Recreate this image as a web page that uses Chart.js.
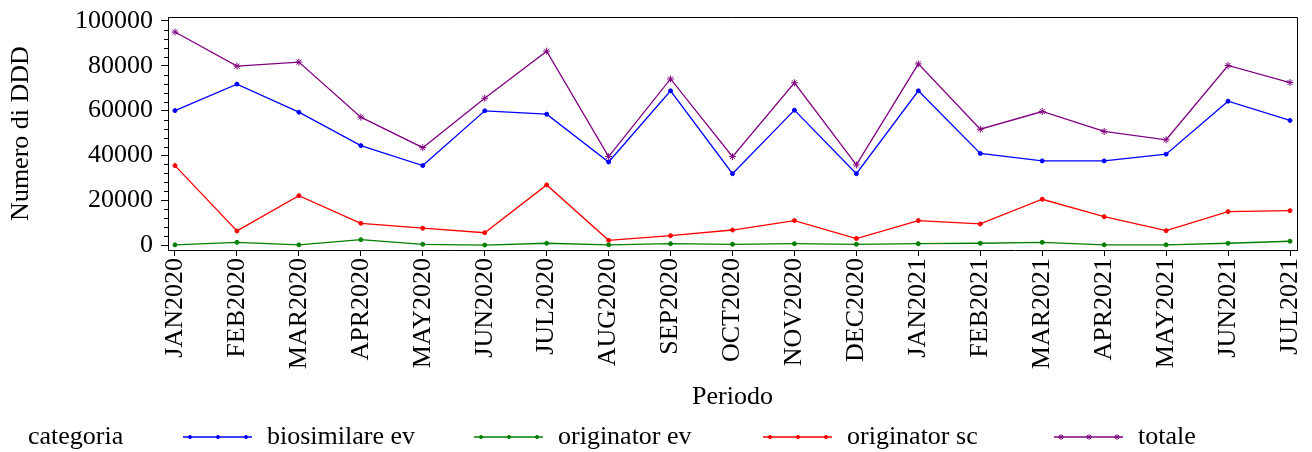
<!DOCTYPE html>
<html>
<head>
<meta charset="utf-8">
<script src="https://cdn.jsdelivr.net/npm/chart.js@4"></script>
<style>
  html, body { margin: 0; padding: 0; background: #fff; }
  canvas { display: block; }
</style>
</head>
<body>
<canvas id="ddd" width="1312" height="452"></canvas>
<script>
/* ─── Numero di DDD per periodo ───────────────────────────────── */

const periodi = ['JAN2020','FEB2020','MAR2020','APR2020','MAY2020','JUN2020','JUL2020',
  'AUG2020','SEP2020','OCT2020','NOV2020','DEC2020','JAN2021','FEB2021','MAR2021',
  'APR2021','MAY2021','JUN2021','JUL2021'];

const biosimilareEv = [60000, 71800, 59300, 44400, 35500, 59900, 58400, 37100, 68800, 31900,
  60200, 31900, 68800, 40900, 37600, 37600, 40600, 64200, 55600];
const originatorEv  = [200, 1300, 200, 2500, 450, 100, 900, 200, 700, 450,
  700, 450, 700, 900, 1300, 200, 200, 900, 1800];
const originatorSc  = [35500, 6400, 22100, 9800, 7600, 5600, 26900, 2200, 4300, 6800,
  11000, 3000, 11000, 9500, 20500, 12750, 6500, 15000, 15400];
const totale        = [95000, 79800, 81600, 57100, 43500, 65500, 86500, 39500, 74100, 39500,
  72400, 35800, 80800, 51700, 59600, 50700, 47000, 80100, 72500];

const yTicks = [0, 20000, 40000, 60000, 80000, 100000];

const FONT = "'Liberation Serif', 'Times New Roman', serif";

function pts(arr) {
  return arr.map((v, i) => ({ x: i, y: v }));
}

function serie(label, values, color, style, radius) {
  return {
    label,
    data: pts(values),
    borderColor: color,
    backgroundColor: color,
    borderWidth: 1.3,
    pointStyle: style,
    pointRadius: radius,
    pointBorderWidth: 1,
    tension: 0,
  };
}

// frame on top/right + minor ticks on the y axis
const framePlugin = {
  id: 'frame',
  afterDraw(chart) {
    const { ctx, chartArea: a, scales } = chart;
    ctx.save();
    ctx.strokeStyle = '#000';
    ctx.lineWidth = 1;
    ctx.beginPath();
    ctx.moveTo(a.left, a.top + 0.5);
    ctx.lineTo(a.right + 0.5, a.top + 0.5);
    ctx.lineTo(a.right + 0.5, a.bottom);
    ctx.stroke();

    const y = scales.y;
    ctx.beginPath();
    for (let v = 4000; v < 100000; v += 4000) {
      if (v % 20000 === 0) continue;
      const py = Math.round(y.getPixelForValue(v)) + 0.5;
      ctx.moveTo(a.left - 4, py);
      ctx.lineTo(a.left, py);
    }
    ctx.stroke();
    ctx.restore();
  }
};

// legend row at the bottom
const legendPos = [183, 474, 763, 1054];
const legendPlugin = {
  id: 'legendRow',
  afterDraw(chart) {
    const { ctx } = chart;
    const cy = 437;
    ctx.save();
    ctx.font = `26px ${FONT}`;
    ctx.fillStyle = '#000';
    ctx.textBaseline = 'middle';
    ctx.textAlign = 'left';
    ctx.fillText('categoria', 28, cy);
    chart.data.datasets.forEach((ds, i) => {
      const x0 = legendPos[i];
      ctx.strokeStyle = ds.borderColor;
      ctx.fillStyle = ds.borderColor;
      ctx.lineWidth = 1.5;
      ctx.beginPath();
      ctx.moveTo(x0, cy);
      ctx.lineTo(x0 + 69, cy);
      ctx.stroke();
      ctx.lineWidth = 1;
      [7, 35, 63].forEach(dx => {
        Chart.helpers.drawPoint(ctx, {
          pointStyle: ds.pointStyle, radius: ds.pointRadius * 0.8, borderWidth: 1, rotation: 0
        }, x0 + dx, cy);
      });
      ctx.fillStyle = '#000';
      ctx.fillText(ds.label, x0 + 84, cy);
    });
    ctx.restore();
  }
};

new Chart(document.getElementById('ddd'), {
  type: 'line',
  data: {
    datasets: [
      serie('biosimilare ev', biosimilareEv, '#0000ff', 'circle', 2),
      serie('originator ev', originatorEv, '#008000', 'circle', 2),
      serie('originator sc', originatorSc, '#ff0000', 'circle', 2),
      serie('totale', totale, '#800080', 'star', 3.5),
    ]
  },
  options: {
    responsive: false,
    animation: false,
    layout: { padding: { top: 17, right: 15, bottom: 0, left: 0 } },
    plugins: {
      legend: { display: false },
      tooltip: { enabled: false },
    },
    scales: {
      x: {
        type: 'linear',
        min: -0.113,
        max: 18.113,
        afterBuildTicks: s => { s.ticks = periodi.map((_, i) => ({ value: i })); },
        afterFit: s => {
          s.height = 202;
          s.paddingLeft = 0;
          s.paddingRight = 0;
        },
        grid: { drawOnChartArea: false, tickLength: 6, color: '#000' },
        border: { color: '#000', width: 1 },
        ticks: {
          autoSkip: false,
          minRotation: 90,
          maxRotation: 90,
          padding: 2,
          color: '#000',
          font: { family: FONT, size: 26 },
          callback: v => periodi[v] ?? '',
        },
        title: {
          display: true,
          text: 'Periodo',
          color: '#000',
          font: { family: FONT, size: 26 },
          padding: { top: 0, bottom: 39 },
        },
      },
      y: {
        min: -2100,
        max: 101700,
        afterBuildTicks: s => { s.ticks = yTicks.map(v => ({ value: v })); },
        afterFit: s => {
          s.width = 168;
          s.paddingTop = 0;
          s.paddingBottom = 0;
        },
        grid: { drawOnChartArea: false, tickLength: 7, color: '#000' },
        border: { color: '#000', width: 1 },
        ticks: {
          padding: 8,
          color: '#000',
          font: { family: FONT, size: 26 },
          callback: v => String(v),
        },
        title: {
          display: true,
          text: 'Numero di DDD',
          color: '#000',
          font: { family: FONT, size: 26 },
          padding: { top: 6, bottom: 0 },
        },
      },
    },
  },
  plugins: [framePlugin, legendPlugin],
});
</script>
</body>
</html>
